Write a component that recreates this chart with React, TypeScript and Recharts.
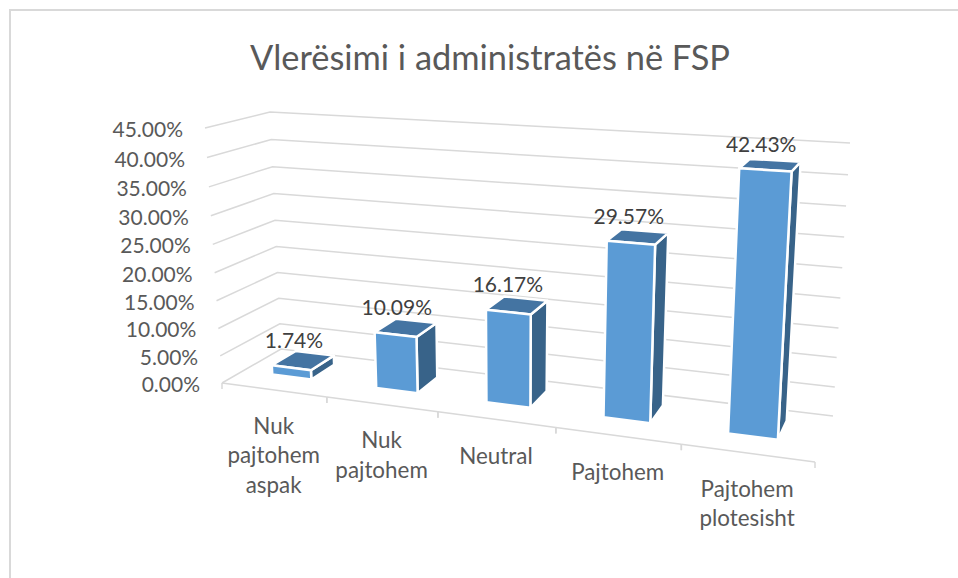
import React from 'react';
import { BarChart, Bar, XAxis, YAxis, CartesianGrid, LabelList } from 'recharts';

const categories = ['Nuk pajtohem aspak', 'Nuk pajtohem', 'Neutral', 'Pajtohem', 'Pajtohem plotesisht'];
const shares = [1.74, 10.09, 16.17, 29.57, 42.43];
const yTicks = [0, 5, 10, 15, 20, 25, 30, 35, 40, 45];
const title = 'Vlerësimi i administratës në FSP';

const data = categories.map((name, i) => ({ name, share: shares[i] }));

const WIDTH = 958;
const HEIGHT = 578;
const MARGIN = 100;
const PLOT_W = WIDTH - 2 * MARGIN;
const PLOT_H = HEIGHT - 2 * MARGIN;
const FONT = 'Lato, "Open Sans", sans-serif';

// corners of the 3D box on screen, [x, y]
const FLOOR = { fl: [222, 383], fr: [815, 462], bl: [281, 349], br: [833, 416] };
const CEIL = { fl: [205, 128], fr: [832, 165], bl: [270, 112], br: [850, 143] };
const PERSPECTIVE_U = 1.164;
const PERSPECTIVE_V = 1.05;
const DEPTH_FRONT = 0.36;
const DEPTH_BACK = 0.78;
const BAR_SHIFT = -0.004;

const lerp = (a: number, b: number, k: number) => a + (b - a) * k;

// u: along categories 0-1, d: depth 0-1, v: height 0-1
function project(u: number, d: number, v: number) {
  const s = u / (u + PERSPECTIVE_U * (1 - u));
  const t = v / (v + PERSPECTIVE_V * (1 - v));
  const at = (axis: number) => {
    const floor = lerp(
      lerp(FLOOR.fl[axis], FLOOR.fr[axis], s),
      lerp(FLOOR.bl[axis], FLOOR.br[axis], s),
      d
    );
    const ceil = lerp(
      lerp(CEIL.fl[axis], CEIL.fr[axis], s),
      lerp(CEIL.bl[axis], CEIL.br[axis], s),
      d
    );
    return lerp(floor, ceil, t);
  };
  return [at(0), at(1)];
}

const toU = (x: number) => (x - MARGIN) / PLOT_W;
const toV = (y: number) => (MARGIN + PLOT_H - y) / PLOT_H;
const poly = (pts: number[][]) => pts.map((p) => p.join(',')).join(' ');

function Bar3D(props: any) {
  const { x, y, width, height } = props;
  const u0 = toU(x) + BAR_SHIFT;
  const u1 = toU(x + width) + BAR_SHIFT;
  const v1 = toV(y);
  const v0 = toV(y + height);
  const front = [project(u0, DEPTH_FRONT, v0), project(u1, DEPTH_FRONT, v0), project(u1, DEPTH_FRONT, v1), project(u0, DEPTH_FRONT, v1)];
  const side = [project(u1, DEPTH_FRONT, v0), project(u1, DEPTH_BACK, v0), project(u1, DEPTH_BACK, v1), project(u1, DEPTH_FRONT, v1)];
  const top = [project(u0, DEPTH_FRONT, v1), project(u1, DEPTH_FRONT, v1), project(u1, DEPTH_BACK, v1), project(u0, DEPTH_BACK, v1)];
  return (
    <g stroke="#fff" strokeWidth={2.5} strokeLinejoin="round">
      <polygon points={poly(side)} fill="#386389" />
      <polygon points={poly(top)} fill="#4474A2" />
      <polygon points={poly(front)} fill="#5B9BD5" />
    </g>
  );
}

function BarValue(props: any) {
  const { x, y, width, value } = props;
  const [cx, cy] = project(toU(x + width / 2) + BAR_SHIFT, (DEPTH_FRONT + DEPTH_BACK) / 2, toV(y));
  return (
    <text x={cx - 9} y={cy - 13} textAnchor="middle" fontFamily={FONT} fontSize={21} fill="#404040">
      {value.toFixed(2)}%
    </text>
  );
}

// left wall then back wall, drawn by the grid so it stays behind the bars
function WallLine(props: any) {
  const v = toV(props.y1);
  return <polyline points={poly([project(0, 0, v), project(0, 1, v), project(1, 1, v)])} fill="none" stroke="#D9D9D9" strokeWidth={1.5} />;
}

function ValueTick(props: any) {
  const { y, payload } = props;
  const a = project(0, 0, toV(y));
  return (
    <text x={a[0] - 22} y={a[1] + 9} textAnchor="end" fontFamily={FONT} fontSize={21} fill="#595959">
      {payload.value.toFixed(2)}%
    </text>
  );
}

function CategoryTick(props: any) {
  const { x, payload } = props;
  const band = PLOT_W / categories.length;
  const left = project(toU(x - band / 2), 0, 0);
  const right = project(toU(x + band / 2), 0, 0);
  const mid = project(toU(x), 0, 0);
  const lines = String(payload.value).split(' ');
  return (
    <g>
      <line x1={left[0]} y1={left[1]} x2={right[0]} y2={right[1]} stroke="#D9D9D9" strokeWidth={1.5} />
      <line x1={left[0]} y1={left[1]} x2={left[0]} y2={left[1] + 6} stroke="#D9D9D9" strokeWidth={1.5} />
      <line x1={right[0]} y1={right[1]} x2={right[0]} y2={right[1] + 6} stroke="#D9D9D9" strokeWidth={1.5} />
      <text textAnchor="middle" fontFamily={FONT} fontSize={22.4} fill="#595959">
        {lines.map((line, i) => (
          <tspan key={line} x={mid[0]} y={mid[1] + 44 + i * 29.5}>
            {line}
          </tspan>
        ))}
      </text>
    </g>
  );
}

export default function App() {
  return (
    <div style={{ position: 'absolute', left: 0, top: 0, width: WIDTH, height: HEIGHT, background: '#fff' }}>
      <div style={{ position: 'absolute', left: 9, top: 9, right: 0, bottom: 0, borderLeft: '2px solid #D9D9D9', borderTop: '2px solid #D9D9D9' }} />
      <div
        style={{
          position: 'absolute',
          left: 0,
          width: 980,
          top: 35,
          textAlign: 'center',
          fontFamily: FONT,
          fontSize: 34.4,
          lineHeight: '44px',
          color: '#595959',
        }}
      >
        {title}
      </div>
      <div style={{ position: 'absolute', left: 0, top: 0 }}>
        <BarChart
          width={WIDTH}
          height={HEIGHT}
          data={data}
          margin={{ top: MARGIN, right: MARGIN, bottom: 0, left: 0 }}
          barCategoryGap="31%"
        >
          <CartesianGrid vertical={false} horizontal={WallLine} />
          <XAxis dataKey="name" height={MARGIN} axisLine={false} tickLine={false} interval={0} tick={CategoryTick} />
          <YAxis
            width={MARGIN}
            domain={[0, 45]}
            ticks={yTicks}
            interval={0}
            axisLine={false}
            tickLine={false}
            tick={ValueTick}
          />
          <Bar dataKey="share" shape={Bar3D} isAnimationActive={false}>
            <LabelList dataKey="share" content={BarValue} />
          </Bar>
        </BarChart>
      </div>
    </div>
  );
}
